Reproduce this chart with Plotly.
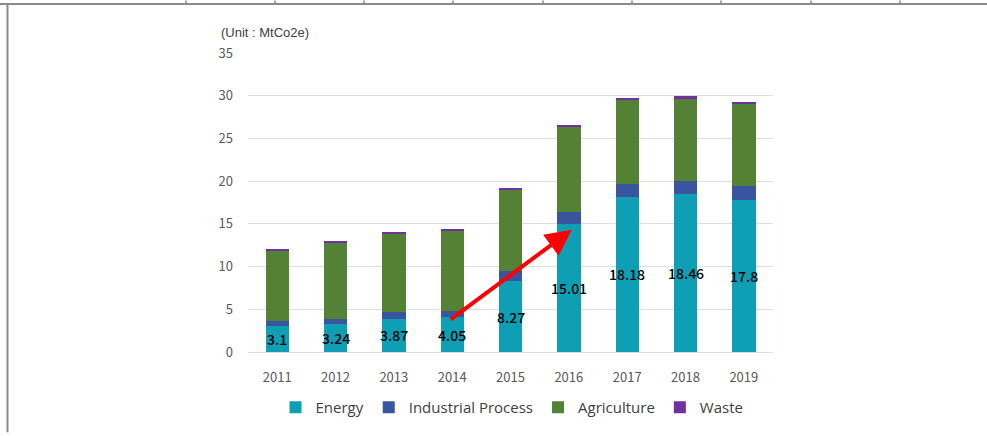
import plotly.graph_objects as go

# Emissions by sector (MtCO2e)
years = ["2011", "2012", "2013", "2014", "2015", "2016", "2017", "2018", "2019"]
energy = [3.1, 3.24, 3.87, 4.05, 8.27, 15.01, 18.18, 18.46, 17.8]
industrial = [0.5, 0.6, 0.8, 0.75, 1.2, 1.35, 1.5, 1.6, 1.6]
agriculture = [8.3, 9.0, 9.15, 9.4, 9.6, 10.0, 9.9, 9.64, 9.68]
waste = [0.15, 0.15, 0.16, 0.16, 0.16, 0.16, 0.2, 0.22, 0.22]
y_ticks = [0, 5, 10, 15, 20, 25, 30, 35]

series = [
    ("Energy", energy, "#0f9fb5"),
    ("Industrial Process", industrial, "#3a55a0"),
    ("Agriculture", agriculture, "#548235"),
    ("Waste", waste, "#7030a0"),
]

W, H = 987, 436
L, R, T, B = 248, 773, 53, 355  # plot area in pixels

fig = go.Figure()
for name, vals, color in series:
    fig.add_trace(go.Bar(
        x=years, y=vals, name=name,
        marker=dict(color=color, line=dict(width=0)),
    ))

axis_font = dict(family="Noto Sans CJK KR, Noto Sans, sans-serif", size=13, color="#595959")

fig.update_layout(
    width=W, height=H,
    margin=dict(l=L, r=W - R, t=T, b=H - B, pad=0),
    barmode="stack",
    bargap=0.6,
    plot_bgcolor="white",
    paper_bgcolor="white",
    showlegend=True,
    legend=dict(
        orientation="h",
        x=(512 - L) / (R - L), xanchor="center",
        y=(B - 411) / (B - T), yanchor="middle",
        font=dict(family="Open Sans, sans-serif", size=15, color="#404040"),
        itemwidth=30,
        traceorder="normal",
        bgcolor="rgba(0,0,0,0)",
    ),
    xaxis=dict(
        type="category",
        categoryorder="array",
        categoryarray=years,
        range=[-0.5, len(years) - 0.5],
        tickfont=axis_font,
        showgrid=False,
        showline=False,
        ticks="",
        ticklabelstandoff=16,
    ),
    yaxis=dict(
        range=[0, 35],
        tickvals=y_ticks,
        tickfont=axis_font,
        showgrid=True,
        gridcolor="#dedede",
        gridwidth=1,
        zeroline=True,
        zerolinecolor="#dedede",
        zerolinewidth=1,
        showline=False,
        ticks="",
        ticklabelstandoff=14,
    ),
)

def px_x(px):
    return (px - L) / (R - L)

def px_y(py):
    return (B - py) / (B - T)

# Energy value labels centred in the energy segment (category index positions)
for i, v in enumerate(energy):
    fig.add_annotation(
        x=i, y=v / 2, xref="x", yref="y", text=f"{v:g}", showarrow=False,
        font=dict(family="Noto Sans CJK KR, Noto Sans, sans-serif", size=14,
                  color="#000000", weight=500),
        xanchor="center", yanchor="middle",
    )

# Unit caption
fig.add_annotation(
    xref="paper", yref="paper", x=px_x(219), y=px_y(32),
    text="(Unit : MtCo2e)", showarrow=False, xanchor="left", yanchor="middle",
    font=dict(family="Liberation Sans, Arial, sans-serif", size=13, color="#404040"),
)

# Red trend arrow from 2014 to 2016 energy
i0, i1 = years.index("2014"), years.index("2016")
fig.add_annotation(
    x=i1 + 0.05, y=energy[i1] - 0.7,
    ax=i0 - 0.05, ay=energy[i0] - 0.35,
    xref="x", yref="y", axref="x", ayref="y",
    showarrow=True, arrowhead=2, arrowsize=1.3, arrowwidth=4,
    arrowcolor="#ff0000", text="",
)

# Surrounding table frame
frame = dict(color="#8a8a8a", width=2)
fig.add_shape(type="line", xref="paper", yref="paper",
              x0=px_x(0), x1=px_x(W), y0=px_y(3.5), y1=px_y(3.5), line=frame)
fig.add_shape(type="line", xref="paper", yref="paper",
              x0=px_x(7.5), x1=px_x(7.5), y0=px_y(3.5), y1=px_y(H), line=frame)
for cx in [186, 275, 364, 453, 543, 632, 721, 811, 900]:
    fig.add_shape(type="line", xref="paper", yref="paper",
                  x0=px_x(cx), x1=px_x(cx), y0=px_y(0), y1=px_y(3.5),
                  line=dict(color="#8a8a8a", width=1.5))

fig.write_html("out.html")
